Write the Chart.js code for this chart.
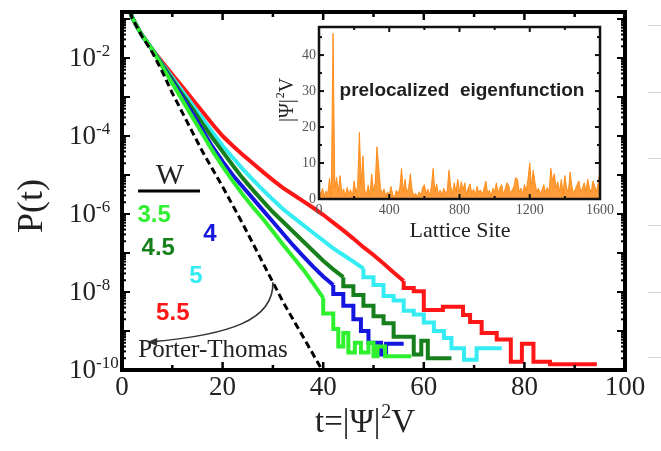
<!DOCTYPE html>
<html>
<head>
<meta charset="utf-8">
<script src="https://cdn.jsdelivr.net/npm/chart.js@4.4.1/dist/chart.umd.min.js"></script>
<style>
  html, body { margin: 0; padding: 0; background: #fff; }
  #wrap { position: relative; width: 661px; height: 451px; overflow: hidden; }
  #wrap canvas { position: absolute; left: 0; top: 0; }
  .edge { position: absolute; left: 648px; width: 13px; height: 1px; background: #d4d4d4; }
</style>
</head>
<body>
<div id="wrap">
  <canvas id="main" width="661" height="451"></canvas>
  <canvas id="inset" width="661" height="451"></canvas>
  <div class="edge" style="top:25px"></div>
  <div class="edge" style="top:92px"></div>
  <div class="edge" style="top:158px"></div>
  <div class="edge" style="top:225px"></div>
  <div class="edge" style="top:292px"></div>
  <div class="edge" style="top:357px"></div>
</div>
<script>
// ---- main panel: P(t) vs t, values stored as log10 P ----
// smooth part of each curve
const red55T  = [0, 1, 2, 3, 4, 6, 8, 10, 12, 14, 16, 18, 20, 22, 24, 26, 28, 30, 32, 34, 36, 38, 40, 42, 44, 46, 48, 50, 52, 54, 56];
const red55   = [0, -0.6, -0.95, -1.2, -1.42, -1.78, -2.1, -2.42, -2.74, -3.06, -3.38, -3.7, -4.0, -4.25, -4.48, -4.7, -4.92, -5.13, -5.33, -5.5, -5.67, -5.84, -6.02, -6.22, -6.42, -6.63, -6.85, -7.05, -7.27, -7.5, -7.72];
const cyan5T  = [0, 1, 2, 3, 4, 6, 8, 10, 12, 14, 16, 18, 20, 22, 24, 26, 28, 30, 32, 34, 36, 38, 40, 42, 44, 46, 48];
const cyan5   = [0, -0.6, -0.95, -1.2, -1.42, -1.78, -2.15, -2.5, -2.85, -3.2, -3.55, -3.9, -4.25, -4.55, -4.85, -5.12, -5.38, -5.63, -5.87, -6.08, -6.28, -6.48, -6.68, -6.88, -7.05, -7.22, -7.4];
const dk45T   = [0, 1, 2, 3, 4, 6, 8, 10, 12, 14, 16, 18, 20, 22, 24, 26, 28, 30, 32, 34, 36, 38, 40, 42, 44];
const dk45    = [0, -0.6, -0.95, -1.2, -1.42, -1.78, -2.17, -2.55, -2.93, -3.3, -3.68, -4.05, -4.4, -4.75, -5.08, -5.38, -5.67, -5.95, -6.2, -6.45, -6.7, -6.95, -7.2, -7.42, -7.62];
const blue4T  = [0, 1, 2, 3, 4, 6, 8, 10, 12, 14, 16, 18, 20, 22, 24, 26, 28, 30, 32, 34, 36, 38, 40, 42];
const blue4   = [0, -0.6, -0.95, -1.2, -1.42, -1.78, -2.2, -2.6, -3.0, -3.42, -3.85, -4.28, -4.65, -5.0, -5.3, -5.6, -5.9, -6.2, -6.5, -6.8, -7.08, -7.35, -7.6, -7.82];
const grn35T  = [0, 1, 2, 3, 4, 6, 8, 10, 12, 14, 16, 18, 20, 22, 24, 26, 28, 30, 32, 34, 36, 38, 40];
const grn35   = [0, -0.6, -0.95, -1.2, -1.42, -1.78, -2.22, -2.65, -3.08, -3.52, -3.95, -4.38, -4.78, -5.15, -5.5, -5.82, -6.12, -6.45, -6.78, -7.1, -7.42, -7.78, -8.15];

// histogram tails (stepped)
const red55TailT = [56, 58, 60, 63.8, 67.8, 69.2, 71.5, 74.5, 77.3, 79.5, 81.8, 85.1, 89, 94.4];
const red55Tail  = [-7.72, -7.9, -7.98, -8.46, -8.38, -8.59, -8.77, -9.05, -9.22, -9.79, -9.33, -9.79, -9.85, -9.85];
const cyan5TailT = [48, 50, 52, 54, 56, 58, 60, 62, 64, 65.5, 68, 70.5, 74, 75.5];
const cyan5Tail  = [-7.4, -7.62, -7.82, -8.1, -8.22, -8.48, -8.58, -8.78, -9.0, -9.18, -9.44, -9.74, -9.44, -9.44];
const dk45TailT  = [44, 46, 48, 50, 52, 54, 56, 58, 59.5, 60.8, 62, 65.5];
const dk45Tail   = [-7.62, -7.85, -8.08, -8.35, -8.62, -8.8, -9.15, -9.15, -9.6, -9.25, -9.7, -9.7];
const blue4TailT = [42, 44, 46, 47.5, 49, 51.5, 52.5, 55, 56];
const blue4Tail  = [-7.82, -8.05, -8.35, -8.7, -9.0, -9.3, -9.6, -9.33, -9.33];
const grn35TailT = [40, 42, 43, 44, 45, 46.3, 47.5, 49, 50, 50.8, 52.3, 53.5, 57.5];
const grn35Tail  = [-8.15, -8.55, -8.95, -9.4, -9.05, -9.55, -9.3, -9.55, -9.3, -9.65, -9.4, -9.65, -9.65];

const porterT   = [0, 1, 2, 4, 6, 8, 10, 12, 14, 16, 20, 24, 28, 32, 36, 40];
const porterLog = [0, -0.55, -0.97, -1.45, -1.85, -2.35, -2.9, -3.4, -3.9, -4.4, -5.3, -6.25, -7.25, -8.25, -9.15, -10.05];

const wLabels = ['3.5', '4', '4.5', '5', '5.5'];
const wColors = ['#2ff02f', '#1515e0', '#17801c', '#35ecf2', '#ff1616'];
const xTicks = [0, 20, 40, 60, 80, 100];
const yTickExp = [-10, -8, -6, -4, -2];

// ---- inset: |psi|^2 V over lattice sites (every 10th site) ----
const siteStep = 10;
const psiVals = [
  2.5, 1.2, 3.0, 0.8, 2.2, 1.5, 5.8, 1.0, 46, 3.0,
  6.0, 2.0, 6.5, 1.5, 2.8, 0.9, 3.2, 1.4, 2.6, 0.7,
  5.0, 1.8, 3.5, 18.5, 4.0, 12.0, 2.5, 1.2, 3.8, 1.0,
  7.0, 2.2, 4.5, 14.5, 9.0, 3.0, 1.5, 2.8, 0.8, 2.0,
  1.0, 3.5, 1.2, 0.5, 2.4, 1.5, 3.0, 8.5, 2.0, 5.5,
  1.8, 3.0, 7.0, 2.5, 0.8, 1.6, 0.5, 2.0, 1.0, 3.2,
  4.0, 1.5, 2.8, 1.0, 3.5, 8.5, 2.0, 4.2, 1.2, 2.5,
  1.0, 3.0, 1.8, 2.2, 8.0, 3.5, 1.5, 4.5, 2.0, 5.5,
  1.8, 4.8, 2.5, 4.5, 1.2, 3.0, 4.2, 1.5, 2.8, 1.0,
  3.5, 1.8, 2.5, 1.2, 3.0, 5.0, 1.6, 2.4, 0.8, 3.0,
  2.0, 4.5, 1.5, 3.2, 4.0, 1.2, 2.8, 4.5, 3.8, 1.6,
  2.5, 3.5, 6.0, 5.5, 2.0, 3.0, 1.5, 4.0, 2.2, 5.5,
  10.0, 3.5, 8.0, 4.5, 2.0, 3.0, 1.5, 2.5, 4.0, 1.8,
  3.2, 2.0, 8.5, 5.0, 7.0, 3.0, 4.8, 2.0, 5.5, 1.5,
  6.5, 3.0, 2.0, 7.5, 3.5, 1.5, 2.8, 4.0, 5.0, 2.0,
  3.0, 4.5, 2.2, 5.5, 3.0, 1.8, 5.0, 3.5, 2.0, 4.5,
  8.0
];
const insetXTicks = [0, 400, 800, 1200, 1600];
const insetYTicks = [0, 10, 20, 30, 40];

const SERIF = '"Liberation Serif", "Times New Roman", serif';
const SANS = '"Liberation Sans", Arial, sans-serif';

function pts(ts, logs) {
  return ts.map((t, i) => ({ x: t, y: Math.pow(10, logs[i]) }));
}
function curve(ts, logs, color, stepped) {
  return { data: pts(ts, logs), borderColor: color, borderWidth: 4, pointRadius: 0,
           stepped: stepped ? 'after' : false, tension: 0, borderJoinStyle: 'miter', borderCapStyle: 'butt' };
}

const mainDatasets = [
  { data: pts(porterT, porterLog), borderColor: '#000', borderWidth: 3, borderDash: [7, 4], pointRadius: 0, tension: 0 },
  curve(grn35T, grn35, wColors[0]), curve(grn35TailT, grn35Tail, wColors[0], true),
  curve(blue4T, blue4, wColors[1]), curve(blue4TailT, blue4Tail, wColors[1], true),
  curve(dk45T, dk45, wColors[2]),   curve(dk45TailT, dk45Tail, wColors[2], true),
  curve(cyan5T, cyan5, wColors[3]), curve(cyan5TailT, cyan5Tail, wColors[3], true),
  curve(red55T, red55, wColors[4]), curve(red55TailT, red55Tail, wColors[4], true)
];

function line(ctx, x1, y1, x2, y2) {
  ctx.beginPath(); ctx.moveTo(x1, y1); ctx.lineTo(x2, y2); ctx.stroke();
}

const mainDecor = {
  id: 'mainDecor',
  beforeDraw(chart) {
    const ctx = chart.ctx;
    ctx.save(); ctx.fillStyle = '#fff'; ctx.fillRect(0, 0, chart.width, chart.height); ctx.restore();
  },
  afterDraw(chart) {
    const { ctx, chartArea: a, scales: { x, y } } = chart;
    const P = (t, lg) => [x.getPixelForValue(t), y.getPixelForValue(Math.pow(10, lg))];
    ctx.save();
    ctx.strokeStyle = '#000';
    ctx.lineWidth = 2.5;
    for (let v = 0; v <= 100; v += 10) {
      const px = x.getPixelForValue(v);
      const len = v % 20 === 0 ? 8 : 5;
      line(ctx, px, a.bottom, px, a.bottom - len);
      line(ctx, px, a.top, px, a.top + len);
    }
    ctx.lineWidth = 2;
    for (let e = -10; e <= -1; e++) {
      for (let m = 1; m < 10; m++) {
        const v = m * Math.pow(10, e);
        if (v > y.max) break;
        const py = y.getPixelForValue(v);
        const len = m === 1 ? 8 : 4;
        line(ctx, a.left, py, a.left + len, py);
        line(ctx, a.right, py, a.right - len, py);
      }
    }
    ctx.lineWidth = 4;
    ctx.strokeRect(a.left, a.top, a.right - a.left, a.bottom - a.top);

    // tick labels
    ctx.fillStyle = '#222';
    xTicks.forEach(v => {
      ctx.font = '27px ' + SERIF; ctx.textAlign = 'center'; ctx.textBaseline = 'middle';
      ctx.fillText(String(v), x.getPixelForValue(v), 388);
    });
    yTickExp.forEach(e => {
      const py = y.getPixelForValue(Math.pow(10, e));
      ctx.font = '27px ' + SERIF; ctx.textAlign = 'right'; ctx.textBaseline = 'middle';
      ctx.fillText('10', 96, py + 1);
      ctx.font = '17px ' + SERIF; ctx.textAlign = 'left'; ctx.textBaseline = 'alphabetic';
      ctx.fillText(String(e), 96, py - 2);
    });

    // axis titles
    ctx.save();
    ctx.translate(33, 206); ctx.rotate(-Math.PI / 2);
    ctx.font = '36px ' + SERIF; ctx.textAlign = 'center'; ctx.textBaseline = 'middle';
    ctx.fillText('P(t)', 0, 0);
    ctx.restore();
    ctx.textAlign = 'left'; ctx.textBaseline = 'alphabetic';
    ctx.font = '33px ' + SERIF;
    let tx = 315;
    const part1 = 't=|\u03A8|';
    ctx.fillText(part1, tx, 432); tx += ctx.measureText(part1).width;
    ctx.font = '20px ' + SERIF; ctx.fillText('2', tx + 1, 418); tx += ctx.measureText('2').width + 1;
    ctx.font = '33px ' + SERIF; ctx.fillText('V', tx, 432);

    // W legend
    const [lx, ly] = P(9.5, -5.03);
    ctx.font = '30px ' + SERIF; ctx.textAlign = 'center'; ctx.textBaseline = 'middle';
    ctx.fillText('W', lx, ly);
    const [ux1, uy] = P(3.2, -5.41); const [ux2] = P(15.5, -5.41);
    ctx.lineWidth = 3; line(ctx, ux1, uy, ux2, uy);
    const wPos = [[6.4, -6.03], [17.5, -6.51], [7.2, -6.87], [14.7, -7.59], [10.1, -8.54]];
    ctx.font = 'bold 24px ' + SANS;
    wLabels.forEach((s, i) => {
      const [px, py] = P(wPos[i][0], wPos[i][1]);
      ctx.fillStyle = wColors[i];
      ctx.fillText(s, px, py);
    });
    ctx.fillStyle = '#222';
    ctx.font = '25px ' + SERIF;
    const [ptx, pty] = P(18.1, -9.49);
    ctx.fillText('Porter-Thomas', ptx, pty);

    // arrow to the Porter-Thomas curve
    const a0 = P(30, -7.75), a1 = P(30.2, -8.72), a2 = P(21.5, -9.1), a3 = P(5, -9.28);
    ctx.strokeStyle = '#333'; ctx.lineWidth = 1.6;
    ctx.beginPath(); ctx.moveTo(a0[0], a0[1]);
    ctx.bezierCurveTo(a1[0], a1[1], a2[0], a2[1], a3[0] + 4, a3[1]);
    ctx.stroke();
    ctx.fillStyle = '#333';
    ctx.beginPath(); ctx.moveTo(a3[0], a3[1]); ctx.lineTo(a3[0] + 10, a3[1] - 4); ctx.lineTo(a3[0] + 10, a3[1] + 4); ctx.closePath(); ctx.fill();
    ctx.restore();
  }
};

new Chart(document.getElementById('main'), {
  type: 'line',
  data: { datasets: mainDatasets },
  options: {
    responsive: false,
    animation: false,
    layout: { padding: { left: 122, right: 36, top: 12, bottom: 81 } },
    plugins: { legend: { display: false }, tooltip: { enabled: false } },
    scales: {
      x: { type: 'linear', min: 0, max: 100, display: false },
      y: { type: 'logarithmic', min: 1e-10, max: Math.pow(10, -0.82), display: false }
    }
  },
  plugins: [mainDecor]
});

// ---- inset ----
const insetDecor = {
  id: 'insetDecor',
  beforeDatasetsDraw(chart) {
    const { ctx, chartArea: a } = chart;
    ctx.save(); ctx.fillStyle = '#fff'; ctx.fillRect(a.left, a.top, a.right - a.left, a.bottom - a.top); ctx.restore();
  },
  afterDraw(chart) {
    const { ctx, chartArea: a, scales: { x, y } } = chart;
    ctx.save();
    ctx.strokeStyle = '#111';
    ctx.lineWidth = 2;
    for (let v = 0; v <= 1600; v += 200) {
      const px = x.getPixelForValue(v);
      const len = v % 400 === 0 ? 5 : 3;
      line(ctx, px, a.bottom, px, a.bottom - len);
      line(ctx, px, a.top, px, a.top + len);
    }
    for (let v = 0; v <= 45; v += 5) {
      const py = y.getPixelForValue(v);
      const len = v % 10 === 0 ? 5 : 3;
      line(ctx, a.left, py, a.left + len, py);
      line(ctx, a.right, py, a.right - len, py);
    }
    ctx.lineWidth = 2.5;
    ctx.strokeRect(a.left, a.top, a.right - a.left, a.bottom - a.top);

    ctx.fillStyle = '#555';
    ctx.font = '14px ' + SERIF;
    ctx.textAlign = 'center'; ctx.textBaseline = 'middle';
    insetXTicks.forEach(v => ctx.fillText(String(v), x.getPixelForValue(v), 210));
    ctx.textAlign = 'right';
    insetYTicks.forEach(v => ctx.fillText(String(v), 316, y.getPixelForValue(v)));

    ctx.fillStyle = '#222';
    ctx.font = '22px ' + SERIF; ctx.textAlign = 'center';
    ctx.fillText('Lattice Site', 460, 231);

    ctx.save();
    ctx.translate(293, 100); ctx.rotate(-Math.PI / 2);
    ctx.font = '20px ' + SERIF; ctx.textAlign = 'left'; ctx.textBaseline = 'alphabetic';
    const p1 = '|\u03A8|';
    const w1 = ctx.measureText(p1).width;
    ctx.font = '12px ' + SERIF; const w2 = ctx.measureText('2').width;
    ctx.font = '20px ' + SERIF; const w3 = ctx.measureText('V').width;
    let sx = -(w1 + w2 + w3 + 1) / 2;
    ctx.fillText(p1, sx, 0); sx += w1;
    ctx.font = '12px ' + SERIF; ctx.fillText('2', sx + 1, -9); sx += w2 + 1;
    ctx.font = '20px ' + SERIF; ctx.fillText('V', sx, 0);
    ctx.restore();

    ctx.font = 'bold 19px ' + SANS;
    ctx.textAlign = 'center'; ctx.textBaseline = 'middle';
    ctx.fillStyle = '#1e1e1e';
    ctx.fillText('prelocalized  eigenfunction', 462, 91);
    ctx.restore();
  }
};

new Chart(document.getElementById('inset'), {
  type: 'line',
  data: {
    datasets: [{
      data: psiVals.map((v, i) => ({ x: i * siteStep, y: v })),
      borderColor: 'rgba(255,138,20,0.95)',
      backgroundColor: 'rgba(255,140,25,0.85)',
      borderWidth: 1,
      pointRadius: 0,
      tension: 0,
      fill: 'origin'
    }]
  },
  options: {
    responsive: false,
    animation: false,
    layout: { padding: { left: 319, right: 61, top: 27, bottom: 252 } },
    plugins: { legend: { display: false }, tooltip: { enabled: false } },
    scales: {
      x: { type: 'linear', min: 0, max: 1600, display: false },
      y: { type: 'linear', min: 0, max: 47.8, display: false }
    }
  },
  plugins: [insetDecor]
});
</script>
</body>
</html>
